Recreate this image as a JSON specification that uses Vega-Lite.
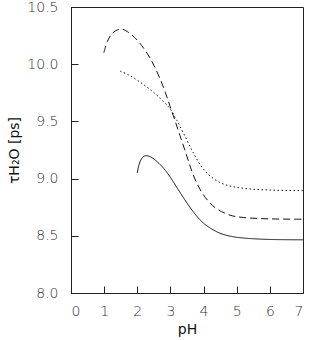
{
  "$schema": "https://vega.github.io/schema/vega-lite/v6.json",
  "autosize": "none",
  "width": 232,
  "height": 286,
  "padding": {"left": 71, "top": 7, "right": 11, "bottom": 47},
  "background": "white",
  "config": {
    "view": {"stroke": "#222", "strokeWidth": 1},
    "axis": {
      "labelFont": "DejaVu Sans",
      "titleFont": "DejaVu Sans",
      "labelFontSize": 14,
      "labelFontWeight": 200,
      "titleFontSize": 14,
      "titleFontWeight": "normal",
      "labelColor": "#333",
      "titleColor": "#111",
      "domainColor": "#222",
      "tickColor": "#222",
      "tickSize": -7,
      "grid": false
    }
  },
  "datasets": {
    "curves": [
      {"series": "dashed", "pH": 0.99, "tau": 10.1},
      {"series": "dashed", "pH": 1.1, "tau": 10.2},
      {"series": "dashed", "pH": 1.23, "tau": 10.265},
      {"series": "dashed", "pH": 1.4, "tau": 10.3},
      {"series": "dashed", "pH": 1.55, "tau": 10.305},
      {"series": "dashed", "pH": 1.75, "tau": 10.275},
      {"series": "dashed", "pH": 2.03, "tau": 10.2},
      {"series": "dashed", "pH": 2.33, "tau": 10.08},
      {"series": "dashed", "pH": 2.5, "tau": 9.99},
      {"series": "dashed", "pH": 2.69, "tau": 9.87},
      {"series": "dashed", "pH": 2.85, "tau": 9.75},
      {"series": "dashed", "pH": 2.99, "tau": 9.63},
      {"series": "dashed", "pH": 3.14, "tau": 9.505},
      {"series": "dashed", "pH": 3.29, "tau": 9.375},
      {"series": "dashed", "pH": 3.44, "tau": 9.245},
      {"series": "dashed", "pH": 3.57, "tau": 9.13},
      {"series": "dashed", "pH": 3.69, "tau": 9.03},
      {"series": "dashed", "pH": 3.84, "tau": 8.935},
      {"series": "dashed", "pH": 3.99, "tau": 8.86},
      {"series": "dashed", "pH": 4.2, "tau": 8.785},
      {"series": "dashed", "pH": 4.4, "tau": 8.735},
      {"series": "dashed", "pH": 4.8, "tau": 8.68},
      {"series": "dashed", "pH": 5.2, "tau": 8.66},
      {"series": "dashed", "pH": 6.0, "tau": 8.648},
      {"series": "dashed", "pH": 7.0, "tau": 8.645},
      {"series": "dotted", "pH": 1.48, "tau": 9.94},
      {"series": "dotted", "pH": 1.78, "tau": 9.9},
      {"series": "dotted", "pH": 2.1, "tau": 9.84},
      {"series": "dotted", "pH": 2.38, "tau": 9.78},
      {"series": "dotted", "pH": 2.7, "tau": 9.7},
      {"series": "dotted", "pH": 2.99, "tau": 9.61},
      {"series": "dotted", "pH": 3.19, "tau": 9.51},
      {"series": "dotted", "pH": 3.44, "tau": 9.37},
      {"series": "dotted", "pH": 3.69, "tau": 9.225},
      {"series": "dotted", "pH": 3.95, "tau": 9.1},
      {"series": "dotted", "pH": 4.19, "tau": 9.025},
      {"series": "dotted", "pH": 4.5, "tau": 8.965},
      {"series": "dotted", "pH": 4.8, "tau": 8.935},
      {"series": "dotted", "pH": 5.2, "tau": 8.915},
      {"series": "dotted", "pH": 6.0, "tau": 8.9},
      {"series": "dotted", "pH": 7.0, "tau": 8.895},
      {"series": "solid", "pH": 2.0, "tau": 9.05},
      {"series": "solid", "pH": 2.05, "tau": 9.12},
      {"series": "solid", "pH": 2.12, "tau": 9.17},
      {"series": "solid", "pH": 2.2, "tau": 9.195},
      {"series": "solid", "pH": 2.28, "tau": 9.2},
      {"series": "solid", "pH": 2.4, "tau": 9.19},
      {"series": "solid", "pH": 2.55, "tau": 9.16},
      {"series": "solid", "pH": 2.7, "tau": 9.12},
      {"series": "solid", "pH": 2.85, "tau": 9.07},
      {"series": "solid", "pH": 3.0, "tau": 9.01},
      {"series": "solid", "pH": 3.2, "tau": 8.92},
      {"series": "solid", "pH": 3.4, "tau": 8.83},
      {"series": "solid", "pH": 3.6, "tau": 8.745},
      {"series": "solid", "pH": 3.8, "tau": 8.67},
      {"series": "solid", "pH": 4.0, "tau": 8.61},
      {"series": "solid", "pH": 4.2, "tau": 8.568},
      {"series": "solid", "pH": 4.4, "tau": 8.535},
      {"series": "solid", "pH": 4.6, "tau": 8.512},
      {"series": "solid", "pH": 4.8, "tau": 8.497},
      {"series": "solid", "pH": 5.0, "tau": 8.487},
      {"series": "solid", "pH": 5.4, "tau": 8.476},
      {"series": "solid", "pH": 6.0, "tau": 8.468},
      {"series": "solid", "pH": 7.0, "tau": 8.465}
    ]
  },
  "data": {"name": "curves"},
  "mark": {"type": "line", "color": "#111", "strokeWidth": 1, "interpolate": "catmull-rom"},
  "encoding": {
    "x": {
      "field": "pH", "type": "quantitative",
      "scale": {"domain": [0, 7], "nice": false},
      "axis": {"title": "pH", "values": [0, 1, 2, 3, 4, 5, 6, 7], "labelPadding": 18, "titlePadding": 4}
    },
    "y": {
      "field": "tau", "type": "quantitative",
      "scale": {"domain": [8.0, 10.5], "nice": false, "zero": false},
      "axis": {"title": "τH₂O [ps]", "values": [8.0, 8.5, 9.0, 9.5, 10.0, 10.5], "format": ".1f", "labelPadding": 20, "titlePadding": 5}
    },
    "strokeDash": {
      "field": "series", "type": "nominal",
      "scale": {"domain": ["solid", "dashed", "dotted"], "range": [[1, 0], [7, 4], [1.5, 2.5]]},
      "legend": null
    },
    "detail": {"field": "series"}
  }
}
